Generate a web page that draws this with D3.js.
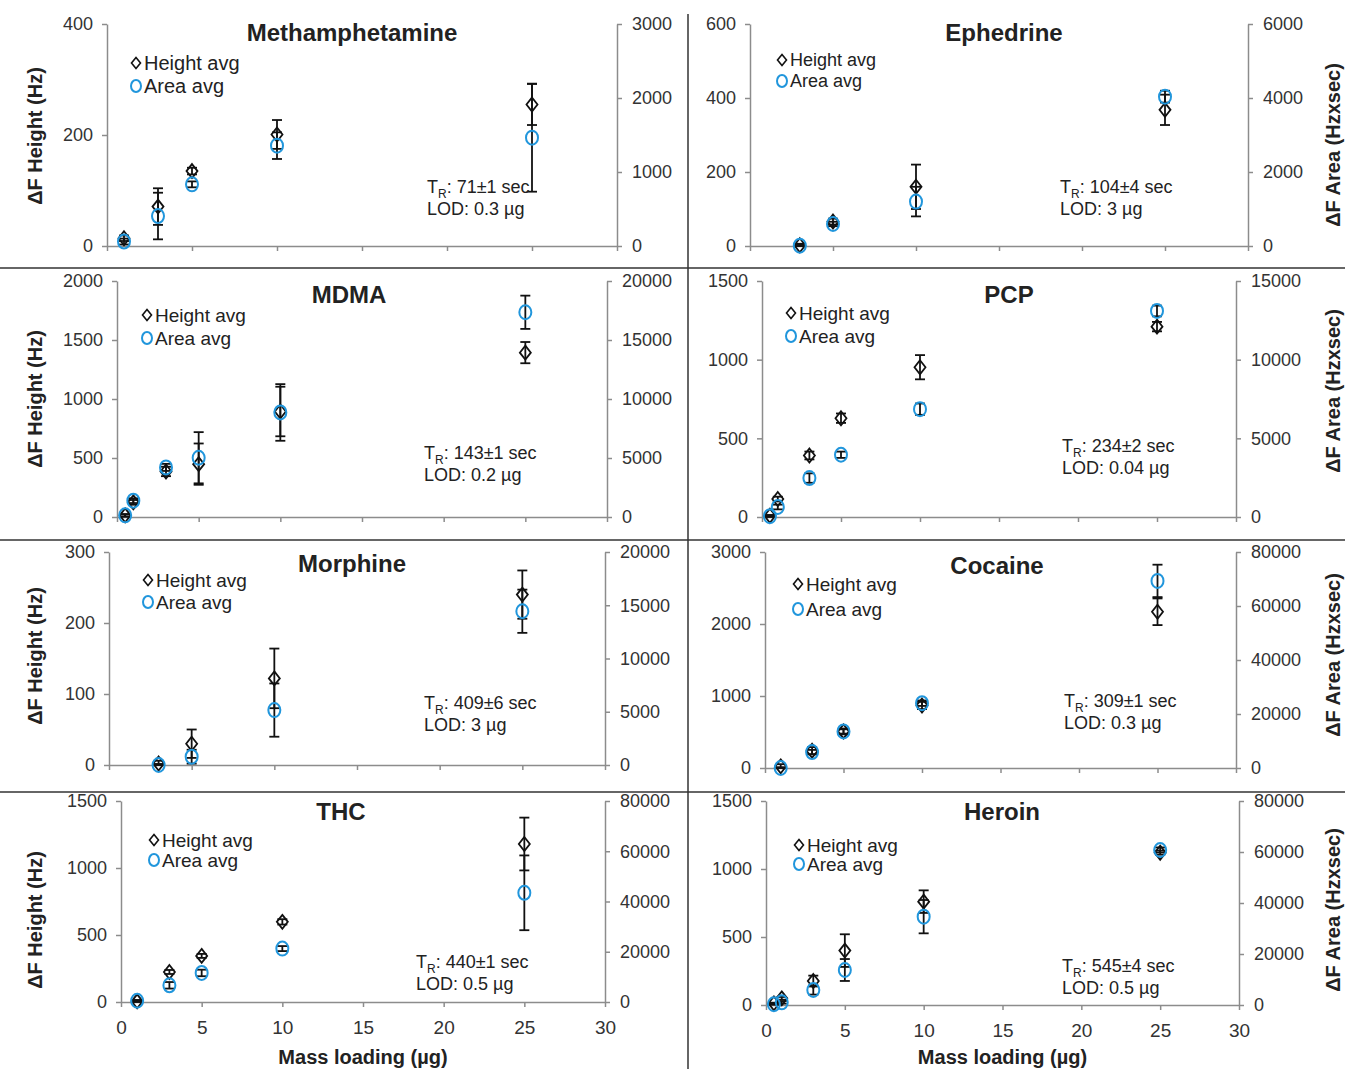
<!DOCTYPE html>
<html>
<head>
<meta charset="utf-8">
<script src="https://cdn.jsdelivr.net/npm/d3@7"></script>
<style>
  body { margin: 0; background: #fff; }
  svg text { font-family: "Liberation Sans", Arial, sans-serif; fill: #222; }
  .axis path, .axis line { stroke: #8c8c8c; stroke-width: 1.5; }
  .axis text { font-size: 18px; fill: #333; }
  .xaxis text { font-size: 19px; }
  .title { font-size: 24px; font-weight: bold; }
  .ylab { font-size: 20px; font-weight: bold; }
  .note { font-size: 18px; }
</style>
</head>
<body>
<script>
// one panel per drug, row by row (left, right)
var drugs = ["Methamphetamine", "Ephedrine", "MDMA", "PCP", "Morphine", "Cocaine", "THC", "Heroin"];
var retention = ["71±1 sec", "104±4 sec", "143±1 sec", "234±2 sec", "409±6 sec", "309±1 sec", "440±1 sec", "545±4 sec"];
var lod = ["0.3 µg", "3 µg", "0.2 µg", "0.04 µg", "3 µg", "0.3 µg", "0.5 µg", "0.5 µg"];

// mass loading (µg) of every point
var massLoading = [
  [1, 3, 5, 10, 25],
  [3, 5, 10, 25],
  [0.5, 1, 3, 5, 10, 25],
  [0.5, 1, 3, 5, 10, 25],
  [3, 5, 10, 25],
  [1, 3, 5, 10, 25],
  [1, 3, 5, 10, 25],
  [0.5, 1, 3, 5, 10, 25]
];
// peak height (Hz), left axis
var heightAvg = [
  [14, 71, 135, 201, 255],
  [2, 66, 160, 368],
  [14, 124, 386, 448, 894, 1393],
  [8, 114, 391, 628, 952, 1210],
  [2, 30, 122, 240],
  [23, 240, 508, 868, 2170],
  [5, 224, 344, 598, 1179],
  [12, 49, 176, 400, 760, 1120]
];
var heightErr = [
  [5, 33, 6, 26, 37],
  [4, 8, 60, 41],
  [10, 20, 40, 175, 210, 90],
  [5, 15, 25, 30, 77, 30],
  [4, 20, 42, 34],
  [30, 50, 40, 50, 185],
  [8, 15, 15, 20, 197],
  [5, 10, 40, 120, 83, 15]
];
// peak area (Hz x sec), right axis
var areaAvg = [
  [60, 405, 833, 1356, 1464],
  [10, 595, 1200, 4036],
  [140, 1382, 4203, 5022, 8860, 17350],
  [50, 635, 2475, 3956, 6854, 13095],
  [0, 780, 5156, 14437],
  [0, 5900, 13540, 24000, 69300],
  [500, 6645, 11560, 21260, 43455],
  [300, 1046, 5882, 13725, 34640, 60784]
];
var areaErr = [
  [40, 315, 40, 180, 730],
  [40, 60, 400, 160],
  [100, 200, 300, 2170, 2400, 1410],
  [50, 150, 300, 200, 360, 340],
  [100, 650, 2500, 2030],
  [300, 800, 800, 1000, 6000],
  [300, 1300, 1300, 1000, 14880],
  [200, 500, 1800, 4300, 6535, 1000]
];

var heightTicks = [
  [0, 200, 400],
  [0, 200, 400, 600],
  [0, 500, 1000, 1500, 2000],
  [0, 500, 1000, 1500],
  [0, 100, 200, 300],
  [0, 1000, 2000, 3000],
  [0, 500, 1000, 1500],
  [0, 500, 1000, 1500]
];
var areaTicks = [
  [0, 1000, 2000, 3000],
  [0, 2000, 4000, 6000],
  [0, 5000, 10000, 15000, 20000],
  [0, 5000, 10000, 15000],
  [0, 5000, 10000, 15000, 20000],
  [0, 20000, 40000, 60000, 80000],
  [0, 20000, 40000, 60000, 80000],
  [0, 20000, 40000, 60000, 80000]
];
var xTicks = [0, 5, 10, 15, 20, 25, 30];

// where each panel sits on the page
var layout = [
  {l: 107, r: 617,  t: 24,  b: 246,  title: [352, 33],   leg: [136, 63],  gap: 23, legSize: 20, note: [427, 187],  ylab: [35, 136]},
  {l: 750, r: 1248, t: 24,  b: 246,  title: [1004, 33],  leg: [782, 60],  gap: 21, legSize: 18, note: [1060, 187], ylab: [1333, 145]},
  {l: 117, r: 607,  t: 281, b: 517,  title: [349, 295],  leg: [147, 315], gap: 23, legSize: 19, note: [424, 453],  ylab: [35, 399]},
  {l: 762, r: 1236, t: 281, b: 517,  title: [1009, 295], leg: [791, 313], gap: 23, legSize: 19, note: [1062, 446], ylab: [1333, 391]},
  {l: 109, r: 605,  t: 552, b: 765,  title: [352, 564],  leg: [148, 580], gap: 22, legSize: 19, note: [424, 703],  ylab: [35, 656]},
  {l: 765, r: 1236, t: 552, b: 768,  title: [997, 566],  leg: [798, 584], gap: 25, legSize: 19, note: [1064, 701], ylab: [1333, 655]},
  {l: 121, r: 605,  t: 801, b: 1002, title: [341, 812],  leg: [154, 840], gap: 20, legSize: 19, note: [416, 962],  ylab: [35, 920]},
  {l: 766, r: 1239, t: 801, b: 1005, title: [1002, 812], leg: [799, 845], gap: 19, legSize: 19, note: [1062, 966], ylab: [1333, 910]}
];

var width = 1345, height = 1069;
var blue = "#2196dc";
var diamond = "M0,-7L5.5,0L0,7L-5.5,0Z";
var smallDiamond = "M0,-5.5L4.5,0L0,5.5L-4.5,0Z";
var plain = d3.format("d");

var svg = d3.select("body").append("svg")
    .attr("width", width)
    .attr("height", height);

// panel frame lines
svg.append("line").attr("x1", 688).attr("x2", 688).attr("y1", 14).attr("y2", height)
  .attr("stroke", "#333").attr("stroke-width", 1.5);
[268, 540, 792].forEach(function(y) {
  svg.append("line").attr("x1", 0).attr("x2", width).attr("y1", y).attr("y2", y)
    .attr("stroke", "#333").attr("stroke-width", 1.5);
});

drugs.forEach(function(name, i) {
  var p = layout[i];
  var g = svg.append("g");
  var x = d3.scaleLinear().domain([0, 30]).range([p.l, p.r]);
  var yH = d3.scaleLinear().domain([0, d3.max(heightTicks[i])]).range([p.b, p.t]);
  var yA = d3.scaleLinear().domain([0, d3.max(areaTicks[i])]).range([p.b, p.t]);

  // axes
  var xAxis = d3.axisBottom(x).tickValues(xTicks).tickSize(5).tickSizeOuter(0).tickPadding(14);
  if (i < 6) xAxis.tickFormat("");
  g.append("g").attr("class", "axis xaxis")
    .attr("transform", "translate(0," + p.b + ")")
    .call(xAxis);
  g.append("g").attr("class", "axis")
    .attr("transform", "translate(" + p.l + ",0)")
    .call(d3.axisLeft(yH).tickValues(heightTicks[i]).tickFormat(plain)
      .tickSize(5).tickSizeOuter(0).tickPadding(9));
  g.append("g").attr("class", "axis")
    .attr("transform", "translate(" + p.r + ",0)")
    .call(d3.axisRight(yA).tickValues(areaTicks[i]).tickFormat(plain)
      .tickSize(5).tickSizeOuter(0).tickPadding(10));

  // error bars, both series drawn black
  function errorBars(vals, errs, y) {
    vals.forEach(function(v, j) {
      var cx = x(massLoading[i][j]);
      var y1 = y(Math.max(v - errs[j], 0)), y2 = y(v + errs[j]);
      g.append("line").attr("x1", cx).attr("x2", cx).attr("y1", y1).attr("y2", y2)
        .attr("stroke", "#111").attr("stroke-width", 1.8);
      [y1, y2].forEach(function(yy) {
        g.append("line").attr("x1", cx - 5).attr("x2", cx + 5).attr("y1", yy).attr("y2", yy)
          .attr("stroke", "#111").attr("stroke-width", 1.8);
      });
    });
  }
  errorBars(heightAvg[i], heightErr[i], yH);
  errorBars(areaAvg[i], areaErr[i], yA);

  g.selectAll(".h").data(heightAvg[i]).enter().append("path")
    .attr("d", diamond)
    .attr("transform", function(d, j) { return "translate(" + x(massLoading[i][j]) + "," + yH(d) + ")"; })
    .attr("fill", "none").attr("stroke", "#111").attr("stroke-width", 1.8);
  g.selectAll(".a").data(areaAvg[i]).enter().append("ellipse")
    .attr("cx", function(d, j) { return x(massLoading[i][j]); })
    .attr("cy", function(d) { return yA(d); })
    .attr("rx", 6).attr("ry", 7)
    .attr("fill", "none").attr("stroke", blue).attr("stroke-width", 2);

  // title
  g.append("text").attr("class", "title")
    .attr("x", p.title[0]).attr("y", p.title[1]).attr("dy", "0.35em")
    .attr("text-anchor", "middle").text(name);

  // legend
  g.append("path").attr("d", smallDiamond)
    .attr("transform", "translate(" + p.leg[0] + "," + p.leg[1] + ")")
    .attr("fill", "none").attr("stroke", "#111").attr("stroke-width", 1.6);
  g.append("text").attr("x", p.leg[0] + 8).attr("y", p.leg[1]).attr("dy", "0.35em")
    .style("font-size", p.legSize + "px").text("Height avg");
  g.append("ellipse").attr("cx", p.leg[0]).attr("cy", p.leg[1] + p.gap)
    .attr("rx", 5).attr("ry", 6)
    .attr("fill", "none").attr("stroke", blue).attr("stroke-width", 2);
  g.append("text").attr("x", p.leg[0] + 8).attr("y", p.leg[1] + p.gap).attr("dy", "0.35em")
    .style("font-size", p.legSize + "px").text("Area avg");

  // retention time and limit of detection
  var tr = g.append("text").attr("class", "note")
    .attr("x", p.note[0]).attr("y", p.note[1]).attr("dy", "0.35em");
  tr.append("tspan").text("T");
  tr.append("tspan").attr("dy", 5).style("font-size", "12px").text("R");
  tr.append("tspan").attr("dy", -5).text(": " + retention[i]);
  g.append("text").attr("class", "note")
    .attr("x", p.note[0]).attr("y", p.note[1] + 22).attr("dy", "0.35em")
    .text("LOD: " + lod[i]);

  // axis titles
  g.append("text").attr("class", "ylab")
    .attr("transform", "translate(" + p.ylab[0] + "," + p.ylab[1] + ") rotate(-90)")
    .attr("dy", "0.35em").attr("text-anchor", "middle")
    .text(i % 2 === 0 ? "ΔF Height (Hz)" : "ΔF Area (Hzxsec)");
  if (i >= 6) {
    g.append("text").attr("class", "ylab")
      .attr("x", (p.l + p.r) / 2).attr("y", 1057).attr("dy", "0.35em")
      .attr("text-anchor", "middle").text("Mass loading (µg)");
  }
});
</script>
</body>
</html>
